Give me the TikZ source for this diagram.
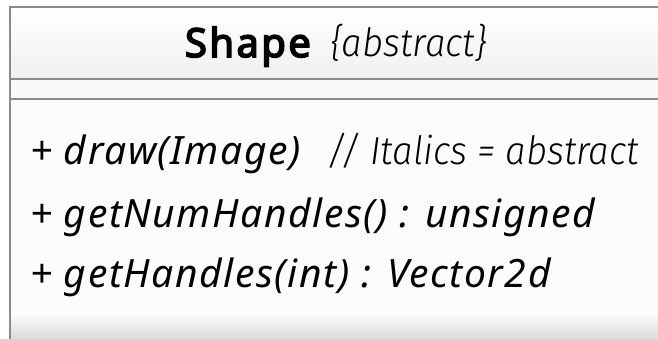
\documentclass[tikz,border=0pt]{standalone}
\usepackage{fontspec}
\setmainfont{Noto Sans}
\newfontfamily\methfont{Noto Sans}[LetterSpace=4]
\newfontfamily\headfont{Noto Sans}[FakeBold=4, LetterSpace=6]
\newfontfamily\lightfont{Fira Sans}[UprightFont={* Light}, ItalicFont={* Light Italic}, FakeStretch=0.94]
\definecolor{boxline}{HTML}{8A8A8A}
\tikzset{
  boxedge/.style={draw=boxline, line width=2.2pt},
  txt/.style={anchor=base west, inner sep=0pt, outer sep=0pt, text=black},
  meth/.style={txt, font=\methfont\itshape\fontsize{39}{39}\selectfont},
  lightitalic/.style={txt, font=\lightfont\itshape\fontsize{39}{39}\selectfont},
  headbold/.style={txt, font=\headfont\fontsize{40}{40}\selectfont},
}
\begin{document}
\begin{tikzpicture}[x=1pt,y=1pt]
\useasboundingbox (0,0) rectangle (658,-339);
\clip (0,0) rectangle (658,-339);
\fill[white] (0,0) rectangle (658,-339);
% compartments
\shade[top color=white, bottom color=black!6] (10,-7) rectangle (680,-79);
\fill[black!2] (10,-79) rectangle (680,-99);
\fill[black!1] (10,-99) rectangle (680,-312);
\shade[top color=black!1, bottom color=black!14] (10,-312) rectangle (680,-339);
% borders
\draw[boxedge] (10,-350) -- (10,-7) -- (680,-7);
\draw[boxedge] (10,-79) -- (680,-79);
\draw[boxedge] (10,-99) -- (680,-99);
% header
\node[headbold] (name) at (185,-57) {Shape};
\node[lightitalic] (stereo) at (330,-57) {\{abstract\}};
% operations
\node[meth] (op1) at (30,-165) {+ draw(Image)};
\node[lightitalic] (note) at (327,-165) {// Italics = abstract};
\node[meth] (op2) at (30,-227) {+ getNumHandles() : unsigned};
\node[meth] (op3) at (30,-287) {+ getHandles(int) : Vector2d};
\end{tikzpicture}
\end{document}
